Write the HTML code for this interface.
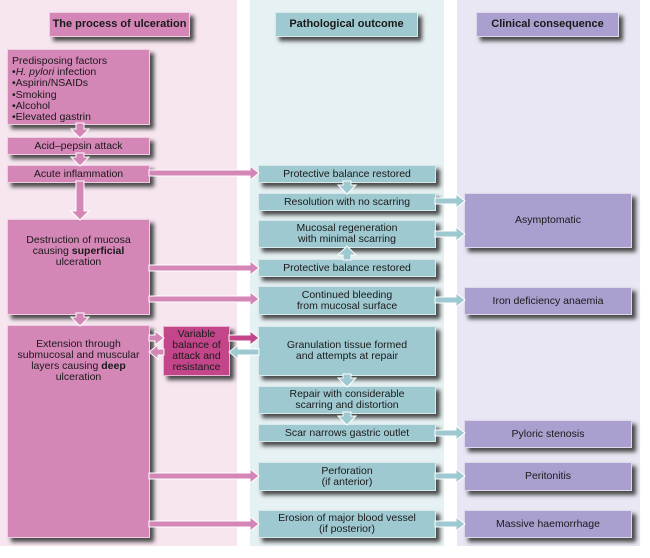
<!DOCTYPE html>
<html><head><meta charset="utf-8"><style>
body{margin:0;width:650px;height:558px;background:#fff;position:relative;overflow:hidden;font-family:"Liberation Sans",Arial,sans-serif;}
.c{position:absolute;}
.b{position:absolute;display:flex;align-items:center;justify-content:center;text-align:center;font-size:10.5px;line-height:11px;color:#1a1a1a;box-shadow:4px 4px 4px #4a4a4a;border:1px solid rgba(255,255,255,.6);box-sizing:border-box;}
.b>span{display:block;}
.p{background:#d486b7;}
.t{background:#9fc9d0;}
.v{background:#aa9fcf;}
.h{font-weight:bold;font-size:11px;}
svg{position:absolute;left:0;top:0;}
</style></head><body>
<div class="c" style="left:0;top:0;width:237px;height:546px;background:#f7e6f0"></div>
<div class="c" style="left:250px;top:0;width:194px;height:546px;background:#e6f1f3"></div>
<div class="c" style="left:457px;top:0;width:183px;height:546px;background:#e9e7f3"></div>

<div class="b p h" style="left:49px;top:12px;width:141px;height:25px"><span>The process of ulceration</span></div>
<div class="b t h" style="left:275px;top:12px;width:143px;height:25px"><span>Pathological outcome</span></div>
<div class="b v h" style="left:476px;top:12px;width:143px;height:25px"><span>Clinical consequence</span></div>

<div class="b p" style="left:7px;top:49px;width:143px;height:76px;justify-content:flex-start;align-items:flex-start;text-align:left;padding:6px 0 0 4px;line-height:11.2px"><span>Predisposing factors<br>•<i>H. pylori</i> infection<br>•Aspirin/NSAIDs<br>•Smoking<br>•Alcohol<br>•Elevated gastrin</span></div>
<div class="b p" style="left:7px;top:137px;width:143px;height:18px"><span>Acid–pepsin attack</span></div>
<div class="b p" style="left:7px;top:165px;width:143px;height:18px"><span>Acute inflammation</span></div>
<div class="b p" style="left:7px;top:219px;width:143px;height:96px;align-items:flex-start;padding-top:15px"><span>Destruction of mucosa<br>causing <b>superficial</b><br>ulceration</span></div>
<div class="b p" style="left:7px;top:325px;width:143px;height:213px;align-items:flex-start;padding-top:13px"><span>Extension through<br>submucosal and muscular<br>layers causing <b>deep</b><br>ulceration</span></div>
<div class="b" style="left:163px;top:326px;width:67px;height:50px;background:#c4468a"><span>Variable<br>balance of<br>attack and<br>resistance</span></div>

<div class="b t" style="left:258px;top:165px;width:178px;height:18px"><span>Protective balance restored</span></div>
<div class="b t" style="left:258px;top:193px;width:178px;height:18px"><span>Resolution with no scarring</span></div>
<div class="b t" style="left:258px;top:220px;width:178px;height:28px"><span>Mucosal regeneration<br>with minimal scarring</span></div>
<div class="b t" style="left:258px;top:259px;width:178px;height:18px"><span>Protective balance restored</span></div>
<div class="b t" style="left:258px;top:286px;width:178px;height:29px"><span>Continued bleeding<br>from mucosal surface</span></div>
<div class="b t" style="left:258px;top:326px;width:178px;height:50px"><span>Granulation tissue formed<br>and attempts at repair</span></div>
<div class="b t" style="left:258px;top:386px;width:178px;height:28px"><span>Repair with considerable<br>scarring and distortion</span></div>
<div class="b t" style="left:258px;top:424px;width:178px;height:18px"><span>Scar narrows gastric outlet</span></div>
<div class="b t" style="left:258px;top:462px;width:178px;height:29px"><span>Perforation<br>(if anterior)</span></div>
<div class="b t" style="left:258px;top:510px;width:178px;height:28px"><span>Erosion of major blood vessel<br>(if posterior)</span></div>

<div class="b v" style="left:464px;top:193px;width:168px;height:55px"><span>Asymptomatic</span></div>
<div class="b v" style="left:464px;top:287px;width:168px;height:28px"><span>Iron deficiency anaemia</span></div>
<div class="b v" style="left:464px;top:420px;width:168px;height:28px"><span>Pyloric stenosis</span></div>
<div class="b v" style="left:464px;top:462px;width:168px;height:29px"><span>Peritonitis</span></div>
<div class="b v" style="left:464px;top:510px;width:168px;height:28px"><span>Massive haemorrhage</span></div>

<svg id="s" width="650" height="558"></svg>
<script>
var s=document.getElementById('s'),P='#d486b7',T='#9fc9d0',V='#c4468a';
function poly(pts,c){var e=document.createElementNS('http://www.w3.org/2000/svg','polygon');e.setAttribute('points',pts.map(function(p){return p.join(',')}).join(' '));e.setAttribute('fill',c);e.setAttribute('stroke','#fff');e.setAttribute('stroke-width','1');s.appendChild(e);}
function hr(x1,x2,y,c){var d=x2>x1?1:-1,hx=x2-d*9;poly([[x1,y-3],[hx,y-3],[hx,y-7],[x2,y],[hx,y+7],[hx,y+3],[x1,y+3]],c);}
function vr(x,y1,y2,c){var d=y2>y1?1:-1,hy=y2-d*9;poly([[x-4,y1],[x-4,hy],[x-9,hy],[x,y2],[x+9,hy],[x+4,hy],[x+4,y1]],c);}
vr(80,123,138,P);vr(80,153,166,P);vr(80,181,220,P);vr(80,313,326,P);
hr(149,259,173,P);hr(149,259,268,P);hr(149,259,299,P);
hr(149,164,338,P);hr(164,149,352,P);
hr(229,259,338,V);hr(259,229,352,T);
hr(149,259,476,P);hr(149,259,524,P);
vr(347,181,194,T);vr(347,260,246,T);vr(347,374,387,T);vr(347,412,425,T);
hr(435,465,201,T);hr(435,465,234,T);hr(435,465,300,T);hr(435,465,433,T);hr(435,465,476,T);hr(435,465,524,T);
</script>
</body></html>
